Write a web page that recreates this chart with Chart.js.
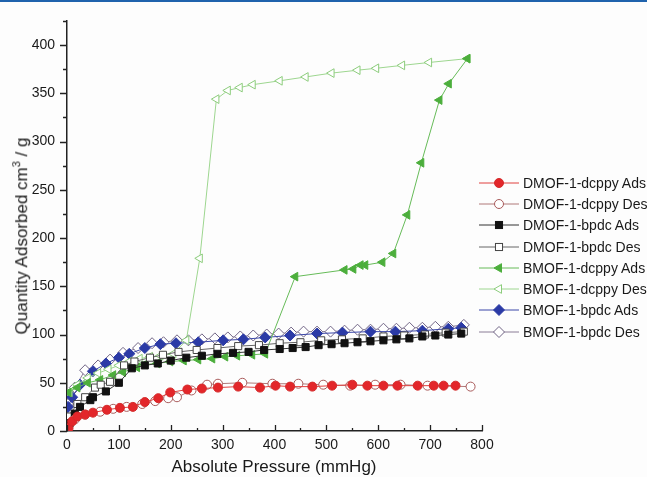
<!DOCTYPE html>
<html>
<head>
<meta charset="utf-8">
<script src="https://cdn.jsdelivr.net/npm/chart.js@4/dist/chart.umd.min.js"></script>
<style>
    html, body { margin: 0; padding: 0; background: #fdfdfd; }
    #wrap { position: relative; width: 647px; height: 477px; overflow: hidden; font-family: Arial, "Liberation Sans", sans-serif; color: #1a1a1a; }
    #topbar { position: absolute; left: 0; top: 0; width: 647px; height: 2px; background: #2063ad; }
    #chart { position: absolute; left: 0; top: 0; }
    #ytitle { position: absolute; left: 21px; top: 236px; transform: translate(-50%, -50%) rotate(-90deg); white-space: nowrap; font-size: 17px; }
    #ytitle sup { font-size: 11px; }
    #xtitle { position: absolute; left: 274px; top: 467px; transform: translate(-50%, -50%); white-space: nowrap; font-size: 17px; }
    #legend { position: absolute; left: 479px; top: 172px; }
    .item { display: flex; align-items: center; height: 21.3px; font-size: 14px; white-space: nowrap; }
    .item svg { margin-right: 4px; }
</style>
</head>
<body>
<div id="wrap">
    <div id="topbar"></div>
    <canvas id="chart" width="647" height="477"></canvas>
    <div id="ytitle">Quantity Adsorbed cm<sup>3</sup> / g</div>
    <div id="xtitle">Absolute Pressure (mmHg)</div>
    <div id="legend"></div>
</div>
<script>
const X_TICKS = [0, 100, 200, 300, 400, 500, 600, 700, 800];
const Y_TICKS = [0, 50, 100, 150, 200, 250, 300, 350, 400];

// DMOF-1-dcppy
const dmofDcppyAdsX = [3, 10, 20, 35, 50, 77, 102, 127, 150, 176, 199, 232, 260, 291, 330, 372, 402, 430, 473, 511, 550, 579, 610, 637, 676, 707, 726, 749];
const dmofDcppyAdsY = [3, 10, 15, 17, 19, 22, 24, 25, 30, 34, 40, 43, 44, 45, 46, 45, 47, 46, 46, 47, 48, 47, 47, 47, 47, 47, 47, 47];
const dmofDcppyDesX = [0, 15, 35, 64, 89, 115, 145, 170, 195, 212, 240, 270, 291, 338, 396, 446, 494, 546, 594, 643, 695, 778];
const dmofDcppyDesY = [2, 12, 17, 20, 23, 25, 28, 31, 34, 35, 42, 48, 49, 50, 49, 49, 48, 47, 48, 48, 47, 46];

// DMOF-1-bpdc
const dmofBpdcAdsX = [5, 15, 25, 45, 50, 75, 100, 125, 150, 175, 200, 230, 260, 290, 320, 350, 380, 410, 435, 460, 485, 510, 535, 560, 585, 610, 635, 660, 685, 710, 735, 760];
const dmofBpdcAdsY = [8, 18, 25, 32, 35, 41, 50, 65, 68, 70, 73, 76, 78, 80, 81, 82, 84, 85, 86, 87, 89, 90, 91, 92, 93, 94, 95, 96, 98, 99, 100, 101];
const dmofBpdcDesX = [2, 20, 35, 54, 65, 83, 110, 130, 160, 185, 215, 250, 290, 330, 370, 410, 450, 490, 530, 570, 610, 650, 690, 730, 765];
const dmofBpdcDesY = [15, 28, 35, 45, 48, 51, 68, 72, 76, 79, 82, 84, 86, 88, 89, 91, 92, 94, 95, 96, 98, 99, 100, 102, 103];

// BMOF-1-dcppy
const bmofDcppyAdsX = [3, 20, 40, 64, 89, 108, 135, 150, 174, 199, 225, 253, 280, 305, 328, 357, 382, 440, 535, 552, 566, 575, 608, 629, 656, 683, 718, 736, 772];
const bmofDcppyAdsY = [40, 45, 50, 53, 58, 61, 66, 69, 70, 72, 73, 74, 75, 77, 78, 79, 80, 160, 167, 168, 172, 172, 175, 184, 224, 278, 343, 360, 386];
const bmofDcppyDesX = [772, 698, 646, 596, 560, 510, 460, 410, 358, 333, 310, 288, 256, 230, 205, 180, 160, 140, 120, 100, 80, 60, 40, 20, 5];
const bmofDcppyDesY = [386, 382, 379, 376, 374, 371, 367, 363, 359, 356, 353, 344, 179, 94, 80, 78, 77, 75, 72, 68, 64, 60, 55, 48, 40];

// BMOF-1-bpdc
const bmofBpdcAdsX = [2, 10, 25, 50, 75, 100, 120, 150, 180, 210, 253, 301, 340, 382, 430, 482, 531, 585, 633, 685, 735, 760];
const bmofBpdcAdsY = [25, 35, 48, 62, 70, 76, 80, 86, 90, 91, 92, 94, 95, 97, 99, 101, 102, 103, 103, 104, 106, 107];
const bmofBpdcDesX = [2, 15, 35, 60, 83, 108, 137, 164, 186, 212, 234, 260, 285, 310, 334, 359, 385, 408, 432, 456, 482, 508, 535, 560, 585, 610, 635, 660, 685, 710, 735, 765];
const bmofBpdcDesY = [28, 45, 63, 68, 74, 81, 86, 91, 92, 94, 94, 95, 96, 97, 98, 99, 100, 101, 102, 103, 103, 103, 104, 105, 105, 106, 106, 107, 107, 108, 108, 110];

const SERIES = [
    { label: 'DMOF-1-dcppy Ads', xs: dmofDcppyAdsX, ys: dmofDcppyAdsY, line: '#e0413f', edge: '#d42a2a', fill: '#e3262a', style: 'circle', r: 4.5, rot: 0 },
    { label: 'DMOF-1-dcppy Des', xs: dmofDcppyDesX, ys: dmofDcppyDesY, line: '#b07878', edge: '#a85a5a', fill: '#ffffff', style: 'circle', r: 4.5, rot: 0 },
    { label: 'DMOF-1-bpdc Ads', xs: dmofBpdcAdsX, ys: dmofBpdcAdsY, line: '#333333', edge: '#111111', fill: '#111111', style: 'rect', r: 5, rot: 0 },
    { label: 'DMOF-1-bpdc Des', xs: dmofBpdcDesX, ys: dmofBpdcDesY, line: '#666666', edge: '#444444', fill: '#ffffff', style: 'rect', r: 5, rot: 0 },
    { label: 'BMOF-1-dcppy Ads', xs: bmofDcppyAdsX, ys: bmofDcppyAdsY, line: '#66bb58', edge: '#4cae3c', fill: '#4cae3c', style: 'triangle', r: 5, rot: -90 },
    { label: 'BMOF-1-dcppy Des', xs: bmofDcppyDesX, ys: bmofDcppyDesY, line: '#9dd68f', edge: '#8ccc7c', fill: '#ffffff', style: 'triangle', r: 5, rot: -90 },
    { label: 'BMOF-1-bpdc Ads', xs: bmofBpdcAdsX, ys: bmofBpdcAdsY, line: '#3a46a8', edge: '#2b3aa6', fill: '#2b3aa6', style: 'rectRot', r: 5.5, rot: 0 },
    { label: 'BMOF-1-bpdc Des', xs: bmofBpdcDesX, ys: bmofBpdcDesY, line: '#8a7d96', edge: '#6f6384', fill: '#ffffff', style: 'rectRot', r: 5.5, rot: 0 },
];

// axis ticks: y outward (left), x inward (up), with minor ticks between
const axisTicks = {
    id: 'axisTicks',
    afterDraw(chart) {
        const { ctx, chartArea, scales } = chart;
        ctx.save();
        ctx.strokeStyle = '#222';
        ctx.lineWidth = 1.3;
        ctx.beginPath();
        for (let v = 0; v <= 425; v += 25) {
            const py = Math.round(scales.y.getPixelForValue(v)) + 0.5;
            const len = v % 50 === 0 ? 7 : 4;
            ctx.moveTo(chartArea.left, py);
            ctx.lineTo(chartArea.left - len, py);
        }
        for (let v = 0; v <= 800; v += 50) {
            const px = Math.round(scales.x.getPixelForValue(v)) + 0.5;
            const len = v % 100 === 0 ? 6 : 3;
            ctx.moveTo(px, chartArea.bottom);
            ctx.lineTo(px, chartArea.bottom - len);
        }
        ctx.stroke();
        ctx.restore();
    },
};

const datasets = SERIES.map((s) => ({
    label: s.label,
    data: s.xs.map((x, i) => ({ x, y: s.ys[i] })),
    showLine: true,
    borderColor: s.line,
    borderWidth: 1,
    pointStyle: s.style,
    pointRadius: s.r,
    pointRotation: s.rot,
    pointBorderColor: s.edge,
    pointBackgroundColor: s.fill,
    pointBorderWidth: 1,
}));

new Chart(document.getElementById('chart').getContext('2d'), {
    type: 'scatter',
    data: { datasets },
    options: {
        responsive: false,
        animation: false,
        layout: { padding: { top: 21, right: 165, left: 0, bottom: 0 } },
        plugins: { legend: { display: false }, tooltip: { enabled: false } },
        scales: {
            x: {
                type: 'linear',
                min: 0,
                max: 800,
                afterBuildTicks: (scale) => { scale.ticks = X_TICKS.map((value) => ({ value })); },
                afterFit: (scale) => { scale.height = 46; },
                grid: { display: false, drawTicks: false },
                border: { display: true, color: '#222', width: 1.5 },
                ticks: { color: '#1a1a1a', font: { size: 14, family: 'Arial, "Liberation Sans", sans-serif' }, padding: 6, maxRotation: 0 },
            },
            y: {
                type: 'linear',
                min: 0,
                max: 425,
                afterBuildTicks: (scale) => { scale.ticks = Y_TICKS.map((value) => ({ value })); },
                afterFit: (scale) => { scale.width = 67; },
                grid: { display: false, drawTicks: false },
                border: { display: true, color: '#222', width: 1.5 },
                ticks: { color: '#1a1a1a', font: { size: 14, family: 'Arial, "Liberation Sans", sans-serif' }, padding: 12 },
            },
        },
    },
    plugins: [axisTicks],
});

// legend: line with marker, then label
function markerSvg(s) {
    const cx = 20, cy = 10;
    let shape;
    if (s.style === 'circle') {
        shape = `<circle cx="${cx}" cy="${cy}" r="${s.r}" />`;
    } else if (s.style === 'rect') {
        const h = s.r * Math.SQRT1_2;
        shape = `<rect x="${cx - h}" y="${cy - h}" width="${2 * h}" height="${2 * h}" />`;
    } else if (s.style === 'rectRot') {
        shape = `<polygon points="${cx},${cy - s.r} ${cx + s.r},${cy} ${cx},${cy + s.r} ${cx - s.r},${cy}" />`;
    } else {
        const r = s.r;
        shape = `<polygon points="${cx - r},${cy} ${cx + r * 0.5},${cy - r * 0.866} ${cx + r * 0.5},${cy + r * 0.866}" />`;
    }
    return `<svg width="40" height="20"><line x1="0" y1="${cy}" x2="40" y2="${cy}" stroke="${s.line}" stroke-width="1" />` +
        `<g fill="${s.fill}" stroke="${s.edge}" stroke-width="1">${shape}</g></svg>`;
}

const legendEl = document.getElementById('legend');
SERIES.forEach((s) => {
    const row = document.createElement('div');
    row.className = 'item';
    row.innerHTML = `${markerSvg(s)}<span>${s.label}</span>`;
    legendEl.appendChild(row);
});
</script>
</body>
</html>
